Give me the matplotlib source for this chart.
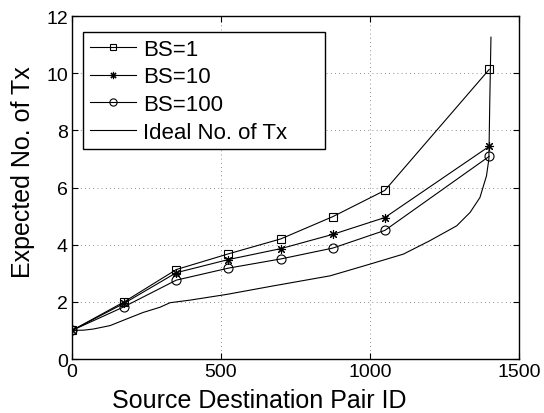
import matplotlib
matplotlib.use("Agg")
from matplotlib import pyplot as plt

plt.rcParams['font.family'] = ['Liberation Sans', 'DejaVu Sans']

# sampled source/destination pair IDs
pair_id = [0, 175, 350, 525, 700, 875, 1050, 1400]

bs1 = [1.0, 2.0, 3.13, 3.68, 4.2, 4.98, 5.9, 10.13]
bs10 = [1.0, 1.95, 3.02, 3.48, 3.86, 4.36, 4.95, 7.44]
bs100 = [1.0, 1.83, 2.76, 3.18, 3.5, 3.88, 4.5, 7.09]

# ideal curve
ideal_x = [0, 40, 72, 128, 183, 239, 295, 329, 396, 519, 671, 866, 1000,
           1112, 1201, 1291, 1336, 1369, 1391, 1399, 1402, 1406]
ideal_y = [1.0, 1.01, 1.05, 1.17, 1.40, 1.63, 1.81, 1.97, 2.06, 2.26, 2.55, 2.91, 3.32,
           3.67, 4.14, 4.66, 5.13, 5.65, 6.41, 7.0, 9.0, 11.26]

fig = plt.figure(figsize=(5.44, 4.14), dpi=100)
ax = fig.add_axes([0.1324, 0.1304, 0.8216, 0.8285])

ast = (8, 2, 0)
ax.plot(pair_id, bs1, 'k-', lw=0.8, marker='s', ms=6, mfc='none', mew=0.8, label='BS=1')
ax.plot(pair_id, bs10, 'k-', lw=0.8, marker=ast, ms=6.5, mew=0.8, label='BS=10')
ax.plot(pair_id, bs100, 'k-', lw=0.8, marker='o', ms=6.5, mfc='none', mew=0.8, label='BS=100')
ax.plot(ideal_x, ideal_y, 'k-', lw=0.8, label='Ideal No. of Tx')

ax.set_xlim(0, 1500)
ax.set_ylim(0, 12)
ax.set_xticks([0, 500, 1000, 1500])
ax.set_yticks(range(0, 13, 2))
ax.tick_params(direction='in', length=4, width=0.8, labelsize=14, top=True, right=True, pad=3)
ax.grid(True, linestyle=(0, (1, 4)), color='k', lw=0.6, alpha=0.6)
for s in ax.spines.values():
    s.set_linewidth(1.0)

fig.text(259 / 544, 6 / 414, 'Source Destination Pair ID', fontsize=18,
         ha='center', va='baseline')
fig.text(23 / 544, 1 - 172 / 414, 'Expected No. of Tx', fontsize=18,
         ha='center', va='center', rotation=90)

leg = ax.legend(loc='upper left', bbox_to_anchor=(0.0246, 0.953, 0.541, 0.0), mode='expand',
                fontsize=16, handlelength=2.1, handletextpad=0.3, labelspacing=0.3,
                borderpad=0.3, fancybox=False, edgecolor='k', framealpha=1,
                borderaxespad=0, markerscale=0.8)
leg.get_frame().set_linewidth(1.0)

fig.savefig('out.png', dpi=100)
